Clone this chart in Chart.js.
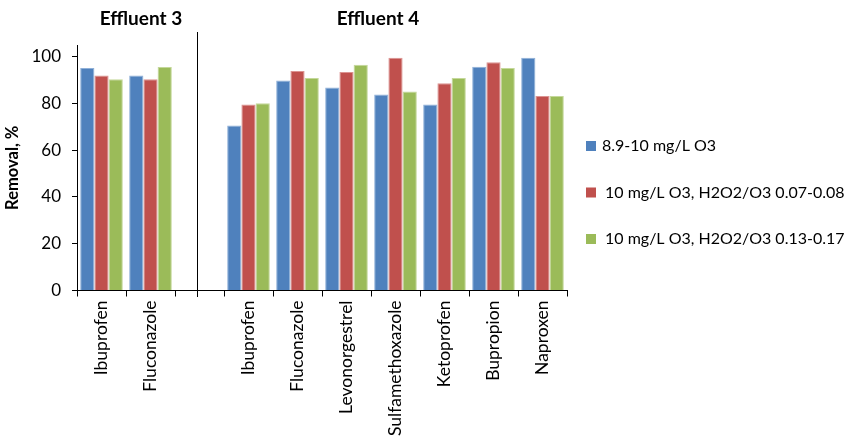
<!DOCTYPE html>
<html>
<head>
<meta charset="utf-8">
<script src="https://cdn.jsdelivr.net/npm/chart.js@4/dist/chart.umd.min.js"></script>
<style>
  html, body { margin: 0; padding: 0; background: #fff; }
  #wrap { width: 857px; height: 440px; }
</style>
</head>
<body>
<div id="wrap"><canvas id="chart" width="857" height="440"></canvas></div>
<script>
// ------------------------------------------------------------
// Removal by ozonation, effluents 3 and 4
// ------------------------------------------------------------
const categories = ["Ibuprofen", "Fluconazole", "", "Ibuprofen", "Fluconazole", "Levonorgestrel",
  "Sulfamethoxazole", "Ketoprofen", "Bupropion", "Naproxen"];
const seriesNames = ["8.9-10 mg/L O3", "10 mg/L O3, H2O2/O3 0.07-0.08", "10 mg/L O3, H2O2/O3 0.13-0.17"];
const ozone = [95.2, 92.0, null, 70.6, 89.8, 86.8, 83.8, 79.5, 95.7, 99.5];
const peroxLow = [92.0, 90.3, null, 79.5, 93.9, 93.5, 99.5, 88.6, 97.6, 83.2];
const peroxHigh = [90.3, 95.6, null, 80.1, 90.9, 96.5, 85.1, 90.9, 95.2, 83.2];
const yTicks = [0, 20, 40, 60, 80, 100];
const groupTitles = ["Effluent 3", "Effluent 4"];

const COLORS = ["#4F81BD", "#C0504D", "#9BBB59"];
const EDGES = ["#8FB0D8", "#DC9391", "#C4D89A"];
const FONT = "Lato, 'Open Sans', sans-serif";

// divider, group titles and the legend on the right
const decorPlugin = {
  id: "decor",
  afterDraw(chart) {
    const ctx = chart.ctx;
    const x = chart.scales.x;
    ctx.save();

    // vertical line between the two effluents
    const dx = Math.round(x.getPixelForValue(2) - 3) + 0.5;
    ctx.strokeStyle = "#000";
    ctx.lineWidth = 1;
    ctx.beginPath();
    ctx.moveTo(dx, 32);
    ctx.lineTo(dx, 297);
    ctx.stroke();

    ctx.fillStyle = "#000";
    ctx.font = "bold 19px " + FONT;
    ctx.textAlign = "center";
    ctx.textBaseline = "middle";
    ctx.fillText(groupTitles[0], 141, 19);
    ctx.fillText(groupTitles[1], 378, 19);

    // legend
    ctx.font = "16px " + FONT;
    ctx.textAlign = "left";
    chart.data.datasets.forEach((ds, i) => {
      const y = 146 + i * 46.5;
      ctx.fillStyle = ds.backgroundColor;
      ctx.fillRect(586, y - 5, 10, 10);
      ctx.fillStyle = "#000";
      ctx.fillText(ds.label, i === 0 ? 602 : 605, y);
    });
    ctx.restore();
  },
};

new Chart(document.getElementById("chart"), {
  type: "bar",
  data: {
    labels: categories,
    datasets: [ozone, peroxLow, peroxHigh].map((d, i) => ({
      label: seriesNames[i],
      data: d,
      backgroundColor: COLORS[i],
      borderColor: EDGES[i],
      borderWidth: { top: 1, left: 1, right: 1, bottom: 0 },
      barPercentage: 1,
      categoryPercentage: 0.87,
    })),
  },
  options: {
    responsive: false,
    animation: false,
    layout: { padding: { top: 45, right: 290, left: 0, bottom: 0 } },
    plugins: { legend: { display: false }, tooltip: { enabled: false } },
    scales: {
      x: {
        offset: true,
        border: { color: "#000", width: 1 },
        grid: { offset: true, drawOnChartArea: false, drawTicks: true, tickLength: 6, color: "#000" },
        ticks: { color: "#000", font: { family: FONT, size: 17.5 }, maxRotation: 90, minRotation: 90, autoSkip: false, padding: 4 },
        afterFit(s) { s.height = 149.5; },
      },
      y: {
        min: 0,
        max: 105,
        border: { color: "#000", width: 1 },
        grid: { drawOnChartArea: false, drawTicks: true, tickLength: 5, color: "#000" },
        ticks: { color: "#000", font: { family: FONT, size: 17 }, stepSize: 20, padding: 11 },
        afterBuildTicks(s) { s.ticks = yTicks.map((v) => ({ value: v })); },
        title: { display: true, text: "Removal, %", color: "#000", font: { family: FONT, size: 16.5, weight: "bold" }, padding: 3 },
        afterFit(s) { s.width = 77; },
      },
    },
  },
  plugins: [decorPlugin],
});
</script>
</body>
</html>
